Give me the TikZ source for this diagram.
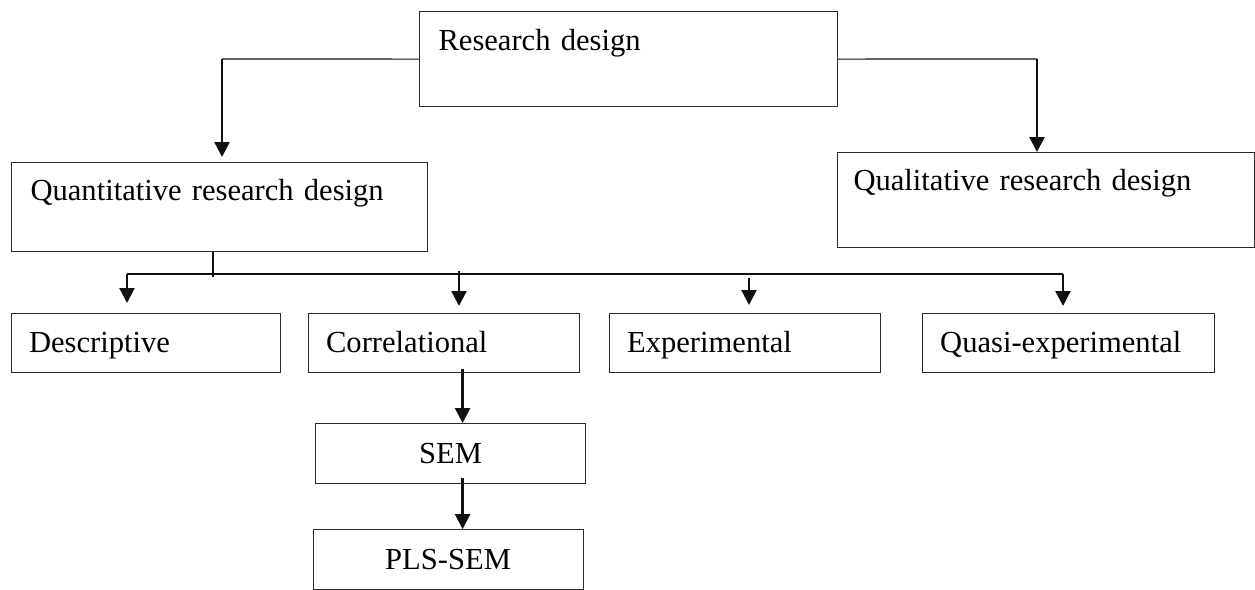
\documentclass[tikz,border=0pt]{standalone}
\usepackage{fontspec}
\setmainfont{Liberation Serif}
\usetikzlibrary{arrows.meta, positioning}
\definecolor{BoxBorder}{HTML}{2B2B2B}
\definecolor{LinkColor}{HTML}{111111}

\begin{document}
\begin{tikzpicture}[
    box/.style={rectangle, draw=BoxBorder, line width=0.6pt, inner ysep=0pt, align=left, font=\fontsize{17.4}{20}\selectfont},
    bigbox/.style={box, anchor=north west, inner xsep=0.38cm, text height=0.78cm, text depth=1.12cm},
    rowbox/.style={box, inner xsep=0.35cm, text height=0.78cm, text depth=0.4cm},
    midbox/.style={box, align=center, minimum width=5.4cm, minimum height=1.2cm},
    link/.style={line width=0.6pt, LinkColor},
    arr/.style={-{Triangle[width=0.3cm, length=0.3cm]}, line width=1.3pt, LinkColor}
  ]
  \useasboundingbox (0,0) rectangle (25.1,-11.8);

  % top level
  \node[bigbox, text width=7.6cm] (rd) at (8.38,-0.22) {Research design};
  \node[bigbox, text width=7.56cm, text height=0.76cm, text depth=1.02cm] (quant) at (0.22,-3.24) {Quantitative research design};
  \node[bigbox, text width=7.7cm, inner xsep=0.32cm, text height=0.76cm, text depth=1.14cm] (qual) at (16.74,-3.04) {Qualitative research design};

  % quantitative designs
  \node[rowbox, anchor=north west, text width=4.68cm] (desc) at (0.22,-6.26) {Descriptive};
  \node[rowbox, text width=4.72cm, right=0.54cm of desc] (corr) {Correlational};
  \node[rowbox, text width=4.72cm, right=0.58cm of corr] (exp) {Experimental};
  \node[rowbox, text width=5.14cm, right=0.82cm of exp] (quasi) {Quasi-experimental};

  \node[midbox, below=1.0cm of corr, xshift=0.13cm] (sem) {SEM};
  \node[midbox, below=0.9cm of sem, xshift=-0.05cm] (pls) {PLS-SEM};

  % connectors
  \coordinate (c1) at (4.44,-1.18);
  \coordinate (c2) at (20.74,-1.18);
  \draw[link] (rd.west) -- (c1);
  \draw[arr, shorten >=0.1cm] (c1) -- (c1 |- quant.north);
  \draw[link] (rd.east) -- (c2);
  \draw[arr] (c2) -- (c2 |- qual.north);

  \coordinate (t0) at (4.26,-5.54);
  \coordinate (bDesc) at (2.54,-5.48);
  \coordinate (bCorr) at (9.18,-5.42);
  \coordinate (bExp) at (14.98,-5.56);
  \coordinate (bQuasi) at (21.26,-5.48);
  \draw[link] (quant.south -| t0) -- (t0);
  \draw[link] (bDesc) -- (bQuasi);
  \draw[arr, shorten >=0.2cm] (bDesc) -- (bDesc |- desc.north);
  \draw[arr, shorten >=0.14cm] (bCorr) -- (bCorr |- corr.north);
  \draw[arr, shorten >=0.16cm] (bExp) -- (bExp |- exp.north);
  \draw[arr, shorten >=0.14cm] (bQuasi) -- (bQuasi |- quasi.north);

  \draw[arr] ([xshift=0.37cm, yshift=0.08cm]corr.south) -- ([xshift=0.37cm]corr.south |- sem.north);
  \draw[arr] ([xshift=0.24cm, yshift=0.12cm]sem.south) -- ([xshift=0.24cm]sem.south |- pls.north);
\end{tikzpicture}
\end{document}
